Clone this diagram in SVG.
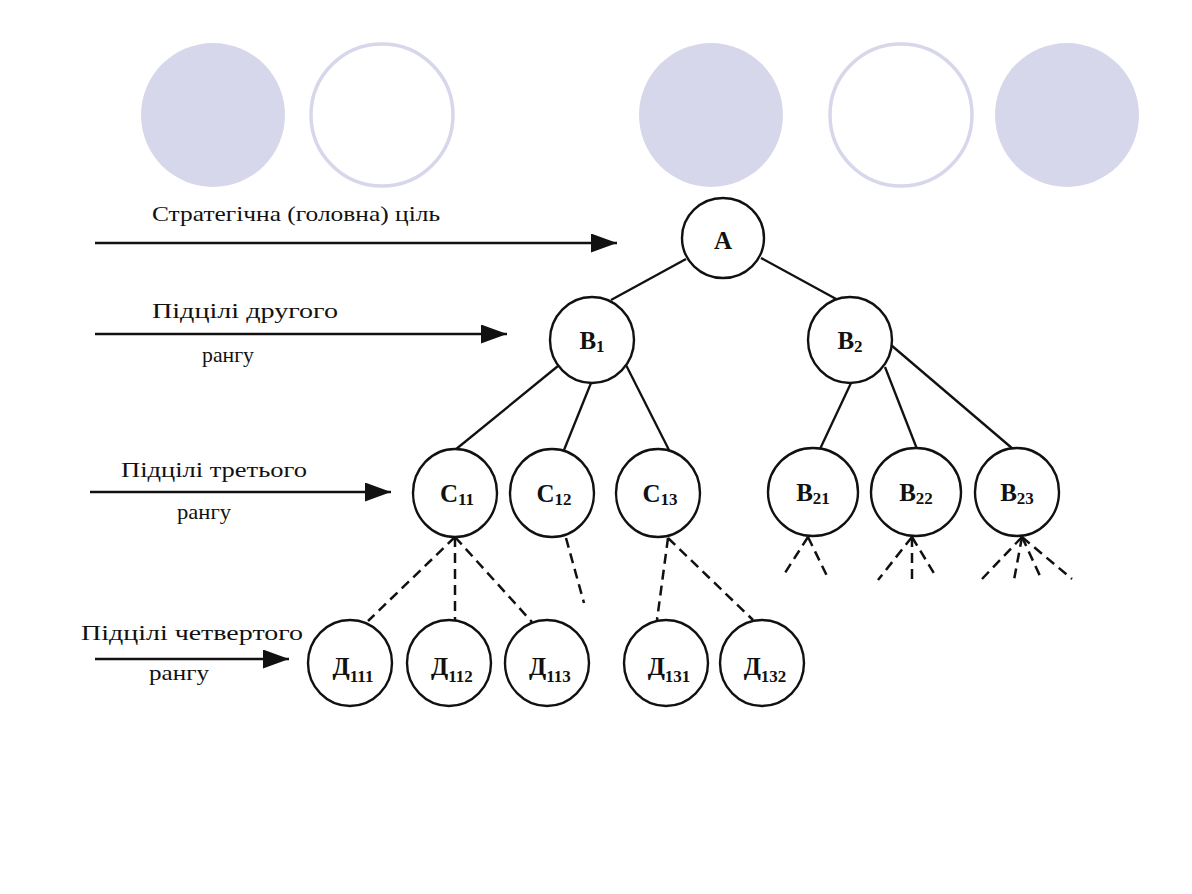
<svg xmlns="http://www.w3.org/2000/svg" width="1192" height="894" viewBox="0 0 1192 894">
  <style>
    .deco-fill { fill: #d7d7ec; }
    .deco-ring { fill: #ffffff; stroke: #d7d7ec; stroke-width: 3.5; }
    .node { fill: #ffffff; stroke: #111111; stroke-width: 2.4; }
    .lbl { font-family: "Liberation Serif", "Times New Roman", serif; font-weight: bold; font-size: 25px; fill: #111111; text-anchor: middle; }
    .sub { font-size: 17px; }
    .cap { font-family: "Liberation Serif", "Times New Roman", serif; font-size: 22px; fill: #111111; }
    .edge { stroke: #111111; stroke-width: 2.3; fill: none; }
    .dash { stroke: #111111; stroke-width: 2.5; fill: none; stroke-dasharray: 10 6; }
    .arrow { stroke: #111111; stroke-width: 2.3; fill: none; marker-end: url(#head); }
  </style>
  <defs>
    <marker id="head" markerUnits="userSpaceOnUse" markerWidth="27" markerHeight="21" refX="26" refY="9.5" orient="auto">
      <path d="M0,0 L26,9.5 L0,19 z" fill="#111111"/>
    </marker>
  </defs>
  <rect width="1192" height="894" fill="#ffffff"/>

  <g id="decor">
    <circle class="deco-fill" cx="213" cy="115" r="72"/>
    <circle class="deco-ring" cx="382" cy="115" r="71"/>
    <circle class="deco-fill" cx="711" cy="115" r="72"/>
    <circle class="deco-ring" cx="901" cy="115" r="71"/>
    <circle class="deco-fill" cx="1067" cy="115" r="72"/>
  </g>

  <g id="level-labels">
    <text class="cap" x="152" y="221" textLength="288" lengthAdjust="spacingAndGlyphs">Стратегічна (головна) ціль</text>
    <text class="cap" x="152" y="318" textLength="186" lengthAdjust="spacingAndGlyphs">Підцілі другого</text>
    <text class="cap" x="202" y="362" textLength="52" lengthAdjust="spacingAndGlyphs">рангу</text>
    <text class="cap" x="121" y="477" textLength="186" lengthAdjust="spacingAndGlyphs">Підцілі третього</text>
    <text class="cap" x="177" y="519" textLength="54" lengthAdjust="spacingAndGlyphs">рангу</text>
    <text class="cap" x="81" y="640" textLength="222" lengthAdjust="spacingAndGlyphs">Підцілі четвертого</text>
    <text class="cap" x="149" y="680" textLength="60" lengthAdjust="spacingAndGlyphs">рангу</text>
  </g>

  <g id="connectors">
    <line class="arrow" x1="95" y1="243" x2="617" y2="243"/>
    <line class="arrow" x1="95" y1="334" x2="507" y2="334"/>
    <line class="arrow" x1="90" y1="492" x2="391" y2="492"/>
    <line class="arrow" x1="95" y1="659" x2="289" y2="659"/>

    <line class="edge" x1="686" y1="259" x2="611" y2="300"/>
    <line class="edge" x1="761" y1="258" x2="838" y2="300"/>
    <line class="edge" x1="558" y1="366" x2="455" y2="450"/>
    <line class="edge" x1="591" y1="383" x2="564" y2="450"/>
    <line class="edge" x1="626" y1="365" x2="669" y2="450"/>
    <line class="edge" x1="851" y1="383" x2="820" y2="449"/>
    <line class="edge" x1="885" y1="367" x2="917" y2="449"/>
    <line class="edge" x1="891" y1="345" x2="1013" y2="449"/>

    <line class="dash" x1="455" y1="537" x2="368" y2="621"/>
    <line class="dash" x1="455" y1="537" x2="455" y2="621"/>
    <line class="dash" x1="455" y1="537" x2="532" y2="622"/>
    <line class="dash" x1="566" y1="538" x2="584" y2="603"/>
    <line class="dash" x1="668" y1="538" x2="657" y2="620"/>
    <line class="dash" x1="668" y1="538" x2="753" y2="620"/>

    <line class="dash" x1="808" y1="537" x2="783" y2="576"/>
    <line class="dash" x1="808" y1="537" x2="827" y2="576"/>
    <line class="dash" x1="912" y1="537" x2="878" y2="580"/>
    <line class="dash" x1="912" y1="537" x2="912" y2="580"/>
    <line class="dash" x1="912" y1="537" x2="935" y2="575"/>
    <line class="dash" x1="1022" y1="537" x2="982" y2="579"/>
    <line class="dash" x1="1022" y1="537" x2="1014" y2="580"/>
    <line class="dash" x1="1022" y1="537" x2="1040" y2="576"/>
    <line class="dash" x1="1022" y1="537" x2="1072" y2="579"/>
  </g>

  <g id="node-A">
    <ellipse class="node" cx="723" cy="238" rx="41" ry="40"/>
    <text class="lbl" x="723" y="249">A</text>
  </g>
  <g id="node-B1">
    <ellipse class="node" cx="592" cy="340" rx="42" ry="43"/>
    <text class="lbl" x="592" y="349">B<tspan class="sub" dy="3">1</tspan></text>
  </g>
  <g id="node-B2">
    <ellipse class="node" cx="850" cy="340" rx="42" ry="43"/>
    <text class="lbl" x="850" y="349">B<tspan class="sub" dy="3">2</tspan></text>
  </g>
  <g id="node-C11">
    <ellipse class="node" cx="455" cy="493" rx="42" ry="44"/>
    <text class="lbl" x="457" y="502">C<tspan class="sub" dy="3">11</tspan></text>
  </g>
  <g id="node-C12">
    <ellipse class="node" cx="552" cy="493" rx="42" ry="44"/>
    <text class="lbl" x="554" y="502">C<tspan class="sub" dy="3">12</tspan></text>
  </g>
  <g id="node-C13">
    <ellipse class="node" cx="658" cy="493" rx="42" ry="44"/>
    <text class="lbl" x="660" y="502">C<tspan class="sub" dy="3">13</tspan></text>
  </g>
  <g id="node-B21">
    <ellipse class="node" cx="813" cy="492" rx="45" ry="44"/>
    <text class="lbl" x="813" y="501">B<tspan class="sub" dy="3">21</tspan></text>
  </g>
  <g id="node-B22">
    <ellipse class="node" cx="916" cy="492" rx="45" ry="44"/>
    <text class="lbl" x="916" y="501">B<tspan class="sub" dy="3">22</tspan></text>
  </g>
  <g id="node-B23">
    <ellipse class="node" cx="1017" cy="492" rx="42" ry="44"/>
    <text class="lbl" x="1017" y="501">B<tspan class="sub" dy="3">23</tspan></text>
  </g>
  <g id="node-D111">
    <ellipse class="node" cx="350" cy="663" rx="42" ry="43"/>
    <text class="lbl" x="353" y="675">Д<tspan class="sub" dy="7">111</tspan></text>
  </g>
  <g id="node-D112">
    <ellipse class="node" cx="449" cy="663" rx="42" ry="43"/>
    <text class="lbl" x="452" y="675">Д<tspan class="sub" dy="7">112</tspan></text>
  </g>
  <g id="node-D113">
    <ellipse class="node" cx="547" cy="663" rx="42" ry="43"/>
    <text class="lbl" x="550" y="675">Д<tspan class="sub" dy="7">113</tspan></text>
  </g>
  <g id="node-D131">
    <ellipse class="node" cx="666" cy="663" rx="42" ry="43"/>
    <text class="lbl" x="669" y="675">Д<tspan class="sub" dy="7">131</tspan></text>
  </g>
  <g id="node-D132">
    <ellipse class="node" cx="762" cy="663" rx="42" ry="43"/>
    <text class="lbl" x="765" y="675">Д<tspan class="sub" dy="7">132</tspan></text>
  </g>
</svg>
